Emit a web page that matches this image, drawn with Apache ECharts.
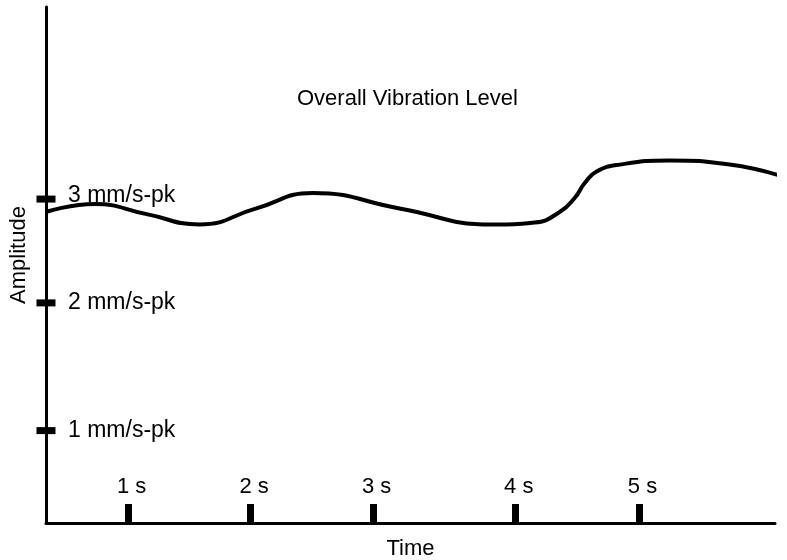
<!DOCTYPE html>
<html>
<head>
<meta charset="utf-8">
<title>Overall Vibration Level</title>
<script src="https://cdn.jsdelivr.net/npm/echarts@6/dist/echarts.min.js"></script>
<style>
  html, body { margin: 0; padding: 0; background: #fff; }
  #chart { width: 787px; height: 560px; }
</style>
</head>
<body>
<div id="chart"></div>
<script>
// Overall vibration level over time (amplitude in mm/s peak)
const timeS = [0.335, 0.727, 1.151, 1.584, 2.041, 2.506, 3.216, 3.976, 4.318,
               4.522, 4.645, 4.727, 4.824, 5.012, 5.420, 5.910, 6.376];
const amplitude = [2.878, 2.952, 2.855, 2.756, 2.908, 3.058, 2.910, 2.754, 2.774,
                   2.875, 3.010, 3.154, 3.265, 3.332, 3.371, 3.332, 3.205];

// Tick marks along each axis and the text printed beside them
const timeTickAt = [1, 2, 3, 4.16, 5.17];
const timeTickLabels = ['1 s', '2 s', '3 s', '4 s', '5 s'];
const ampTickAt = [0.77, 2, 3];
const ampTickLabels = ['1 mm/s-pk', '2 mm/s-pk', '3 mm/s-pk'];

const X_MIN = 0.33, X_MAX = 6.28;
const Y_MIN = -0.12, Y_MAX = 4.85;
const FONT = '"Liberation Sans", Arial, Helvetica, sans-serif';
const INK = '#000';

const chart = echarts.init(document.getElementById('chart'), null, { renderer: 'canvas' });

chart.setOption({
  animation: false,
  backgroundColor: '#fff',
  title: {
    text: 'Overall Vibration Level',
    left: 297,
    top: 88,
    padding: 0,
    textStyle: { fontFamily: FONT, fontSize: 22, fontWeight: 'normal', color: INK }
  },
  grid: {
    left: 46, right: 12, top: 7, bottom: 37,
    containLabel: false,
    outerBoundsMode: 'none'
  },
  xAxis: {
    type: 'value',
    min: X_MIN,
    max: X_MAX,
    name: 'Time',
    nameLocation: 'middle',
    nameGap: 15,
    nameTextStyle: { fontFamily: FONT, fontSize: 22, color: INK },
    axisLine: { show: true, onZero: false, lineStyle: { color: INK, width: 3 } },
    axisTick: {
      show: true,
      inside: true,
      length: 19,
      customValues: timeTickAt,
      lineStyle: { color: INK, width: 7 }
    },
    axisLabel: {
      show: true,
      inside: true,
      margin: 25,
      padding: [0, 0, 0, 7],
      customValues: timeTickAt,
      fontFamily: FONT,
      fontSize: 22,
      color: INK,
      formatter: v => {
        const i = timeTickAt.findIndex(t => Math.abs(t - v) < 1e-6);
        return i >= 0 ? timeTickLabels[i] : '';
      }
    },
    splitLine: { show: false }
  },
  yAxis: {
    type: 'value',
    min: Y_MIN,
    max: Y_MAX,
    name: 'Amplitude',
    nameLocation: 'middle',
    nameGap: 16,
    nameTextStyle: { fontFamily: FONT, fontSize: 22, color: INK, padding: [0, 0, 0, 20] },
    axisLine: { show: true, onZero: false, lineStyle: { color: INK, width: 3 } },
    axisTick: { show: false },
    axisLabel: {
      show: true,
      inside: true,
      margin: 22,
      customValues: ampTickAt,
      fontFamily: FONT,
      fontSize: 23,
      color: INK,
      formatter: v => {
        const i = ampTickAt.findIndex(a => Math.abs(a - v) < 1e-6);
        if (i < 0) return '';
        // the top label sits a little higher so the curve stays clear of it
        return i === ampTickAt.length - 1 ? '{lift|' + ampTickLabels[i] + '}' : ampTickLabels[i];
      },
      rich: {
        lift: { fontFamily: FONT, fontSize: 23, color: INK, padding: [0, 0, 6, 0] }
      }
    },
    splitLine: { show: false }
  },
  series: [
    {
      // horizontal tick bars crossing the amplitude axis
      type: 'scatter',
      clip: false,
      silent: true,
      symbol: 'rect',
      symbolSize: [19, 7],
      itemStyle: { color: INK, opacity: 1 },
      data: ampTickAt.map(a => [X_MIN, a]),
      z: 5
    },
    {
      type: 'line',
      clip: false,
      smooth: 0.5,
      showSymbol: false,
      lineStyle: { color: INK, width: 4 },
      data: timeS.map((t, i) => [t, amplitude[i]]),
      z: 3
    }
  ]
});
</script>
</body>
</html>
